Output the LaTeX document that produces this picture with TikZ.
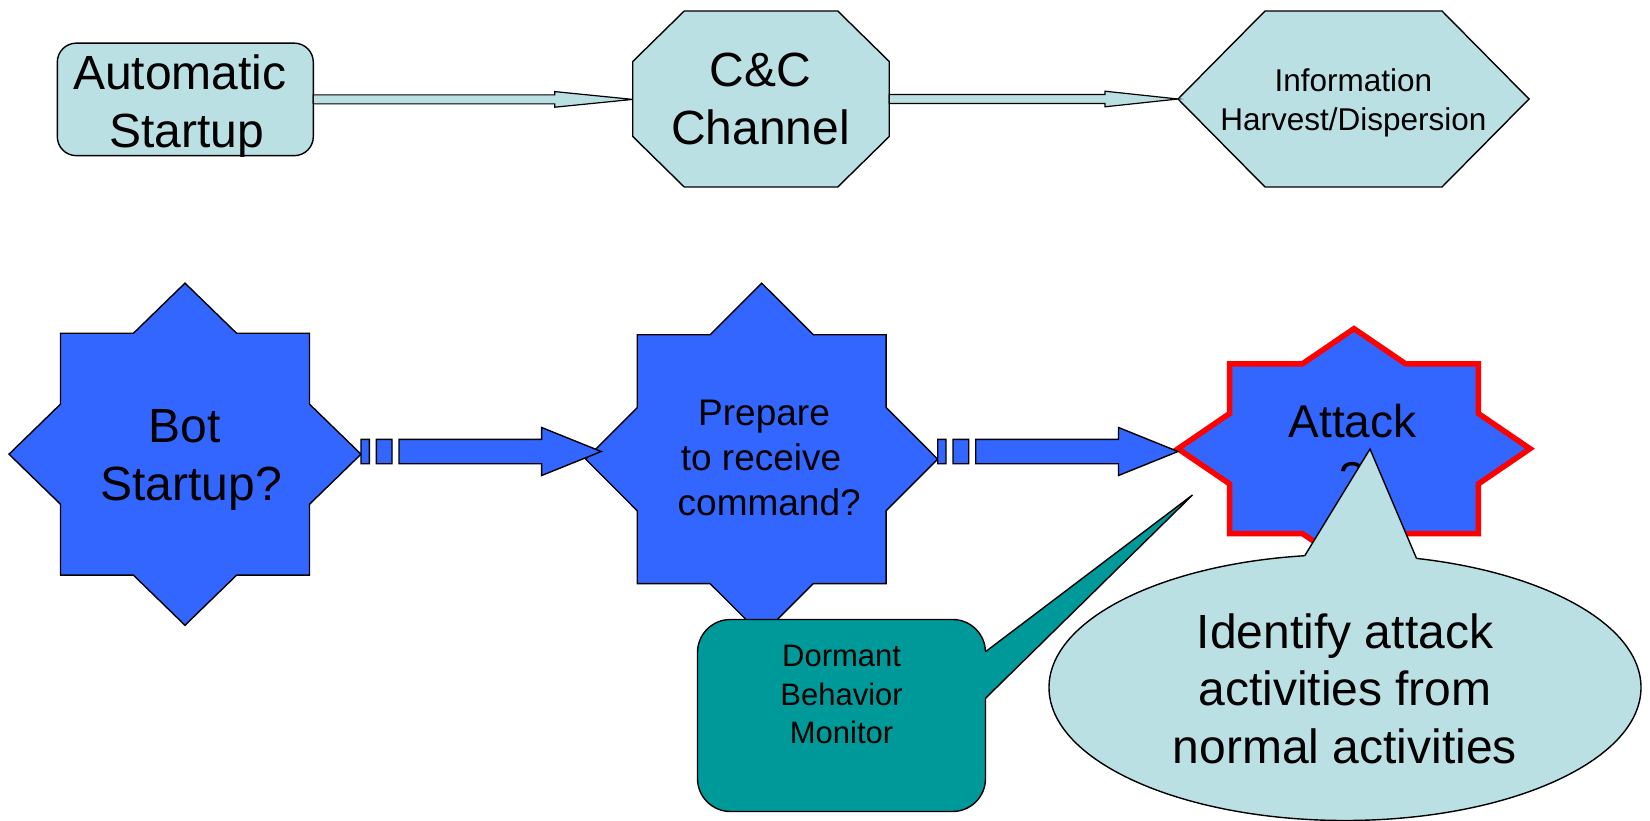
\documentclass[tikz,border=0pt]{standalone}
\usepackage{fontspec}
\setmainfont{Liberation Sans}
\usetikzlibrary{shapes.geometric,calc}

\definecolor{paleblue}{HTML}{BBE0E3}
\definecolor{starblue}{HTML}{3366FF}
\definecolor{tealbox}{HTML}{009999}

\tikzset{
  outline/.style={draw=black, line width=1.4pt},
  lightbox/.style={outline, fill=paleblue},
  plain/.style={inner sep=0pt, outer sep=0pt},
  stage/.style={star, star points=8, star point ratio=1.3066,
    minimum size=352pt, plain, fill=starblue, draw=black, line width=1.4pt},
  stripe/.style={fill=starblue, draw=black, line width=1.4pt},
  txtL/.style={align=center, inner sep=0pt, font=\fontsize{48}{57.6}\selectfont},
  txtA/.style={align=center, inner sep=0pt, font=\fontsize{46}{57}\selectfont},
  txtM/.style={align=center, inner sep=0pt, font=\fontsize{37}{45}\selectfont},
  txtS/.style={align=center, inner sep=0pt, font=\fontsize{31.5}{38.4}\selectfont},
}

% thin two-line arrow: from, to, head length
\newcommand\thinarrow[3]{%
  \path[lightbox, line width=1.2pt] let \p1=#1, \p2=#2 in
    (\x1,\y1+4.5pt) -- (\x2-#3,\y1+4.5pt) -- (\x2-#3,\y1+7.8pt) -- (\x2,\y1)
    -- (\x2-#3,\y1-7.8pt) -- (\x2-#3,\y1-4.5pt) -- (\x1,\y1-4.5pt) -- cycle;
}

% block arrow with two stripes at its tail: from, to, overshoot of the tip
\newcommand\stripedarrow[3]{%
  \path[stripe] let \p1=#1, \p2=#2 in
    (\x1,\y1-12.2pt) rectangle (\x1+8.3pt,\y1+12.2pt)
    (\x1+15.3pt,\y1-12.2pt) rectangle (\x1+31pt,\y1+12.2pt)
    (\x1+38pt,\y1-12.2pt) -- (\x2+#3-59.5pt,\y1-12.2pt) -- (\x2+#3-59.5pt,\y1-24pt)
    -- (\x2+#3,\y1) -- (\x2+#3-59.5pt,\y1+24pt) -- (\x2+#3-59.5pt,\y1+12.2pt)
    -- (\x1+38pt,\y1+12.2pt) -- cycle;
}

% box with cut corners around a node: node, horizontal cut, vertical cut
\newcommand\cutbox[3]{%
  \path[lightbox] ([xshift=#2]#1.north west) -- ([xshift=-#2]#1.north east)
    -- ([yshift=-#3]#1.north east) -- ([yshift=#3]#1.south east)
    -- ([xshift=-#2]#1.south east) -- ([xshift=#2]#1.south west)
    -- ([yshift=#3]#1.south west) -- ([yshift=-#3]#1.north west) -- cycle;
}

\begin{document}
\begin{tikzpicture}[x=1pt,y=-1pt]
\fill[white] (0,0) rectangle (1650,821);
\useasboundingbox (0,0) rectangle (1650,821);

% ---- top row: the normal life cycle ----
\node[rectangle, rounded corners=19pt, lightbox, plain,
      minimum width=256pt, minimum height=112.5pt] (auto) at (185.3,99.4) {};
\node[rectangle, plain, minimum width=256.5pt, minimum height=176pt] (cc) at (761,99) {};
\cutbox{cc}{51.5pt}{50.5pt}
\node[rectangle, plain, minimum width=351pt, minimum height=176pt] (info) at (1353.5,99) {};
\cutbox{info}{87pt}{88pt}

\node[txtL] (autotext) at (186.5,105.9) {Automatic\kern13.3pt\\Startup};
\node[txtL] (cctext) at (760.6,99.2) {C\&C\\Channel};
\node[txtS] (infotext) at (1353.3,102.7) {Information\\Harvest/Dispersion};

\thinarrow{(auto.east)}{(cc.west)}{78pt}
\thinarrow{(cc.east)}{(info.west)}{73pt}

% ---- bottom row: the bot's stages ----
\begin{scope}[shift={(185,454.2)}, yscale=0.972]
  \node[stage, transform shape] (bot) at (0,0) {};
\end{scope}
\begin{scope}[shift={(761.7,459.2)}]
  \node[stage, transform shape] (prep) at (0,0) {};
\end{scope}
\begin{scope}[shift={(1354,448.7)}, yscale=0.682]
  \node[stage, transform shape, draw=red, line width=5.5pt] (attack) at (0,0) {};
\end{scope}

\node[txtL] (bottext) at (191.3,459.9) {Bot\kern13.3pt\\Startup?};
\node[txtM] (preptext) at (769.2,458.4) {Prepare\kern10.3pt\\to receive\kern16.3pt\\command?};
\node[txtA] (attacktext) at (1352.5,449.3) {Attack\\?};

\coordinate (row) at (0,451.5);
\stripedarrow{(bot.0 |- row)}{(prep.180 |- row)}{15.5pt}
\stripedarrow{(prep.0 |- row)}{(attack.180 |- row)}{0pt}

% ---- callout: dormant behaviour monitor ----
\node[rectangle, rounded corners=33pt, outline, fill=tealbox, plain,
      minimum width=288pt, minimum height=192pt] (monitor) at (841.5,715.5) {};
\coordinate (montip) at (1192.5,495);
\fill[tealbox] ([yshift=63.8pt]monitor.east) -- (montip) -- ([yshift=17.2pt]monitor.east)
  -- ([xshift=-4pt,yshift=17.2pt]monitor.east) -- ([xshift=-4pt,yshift=63.8pt]monitor.east) -- cycle;
\draw[outline] ([yshift=63.8pt]monitor.east) -- (montip) -- ([yshift=17.2pt]monitor.east);
\node[txtS, font=\fontsize{31}{38.5}\selectfont] (montext) at (841.6,694.7) {Dormant\\Behavior\\Monitor};

% ---- callout: identifying attacks ----
\node[ellipse, lightbox, plain, minimum width=592pt, minimum height=266pt] (goal) at (1345,687.5) {};
\coordinate (goaltip) at (1370,449);
\fill[paleblue] (goal.61.4) -- (goaltip) -- (goal.107.9) -- ([yshift=-14pt]goal.107.9)
  -- ([yshift=-14pt]goal.61.4) -- cycle;
\draw[outline] (goal.61.4) -- (goaltip) -- (goal.107.9);
\node[txtL] (goaltext) at (1345,688.6) {Identify attack\\activities from\\normal activities};
\end{tikzpicture}
\end{document}
